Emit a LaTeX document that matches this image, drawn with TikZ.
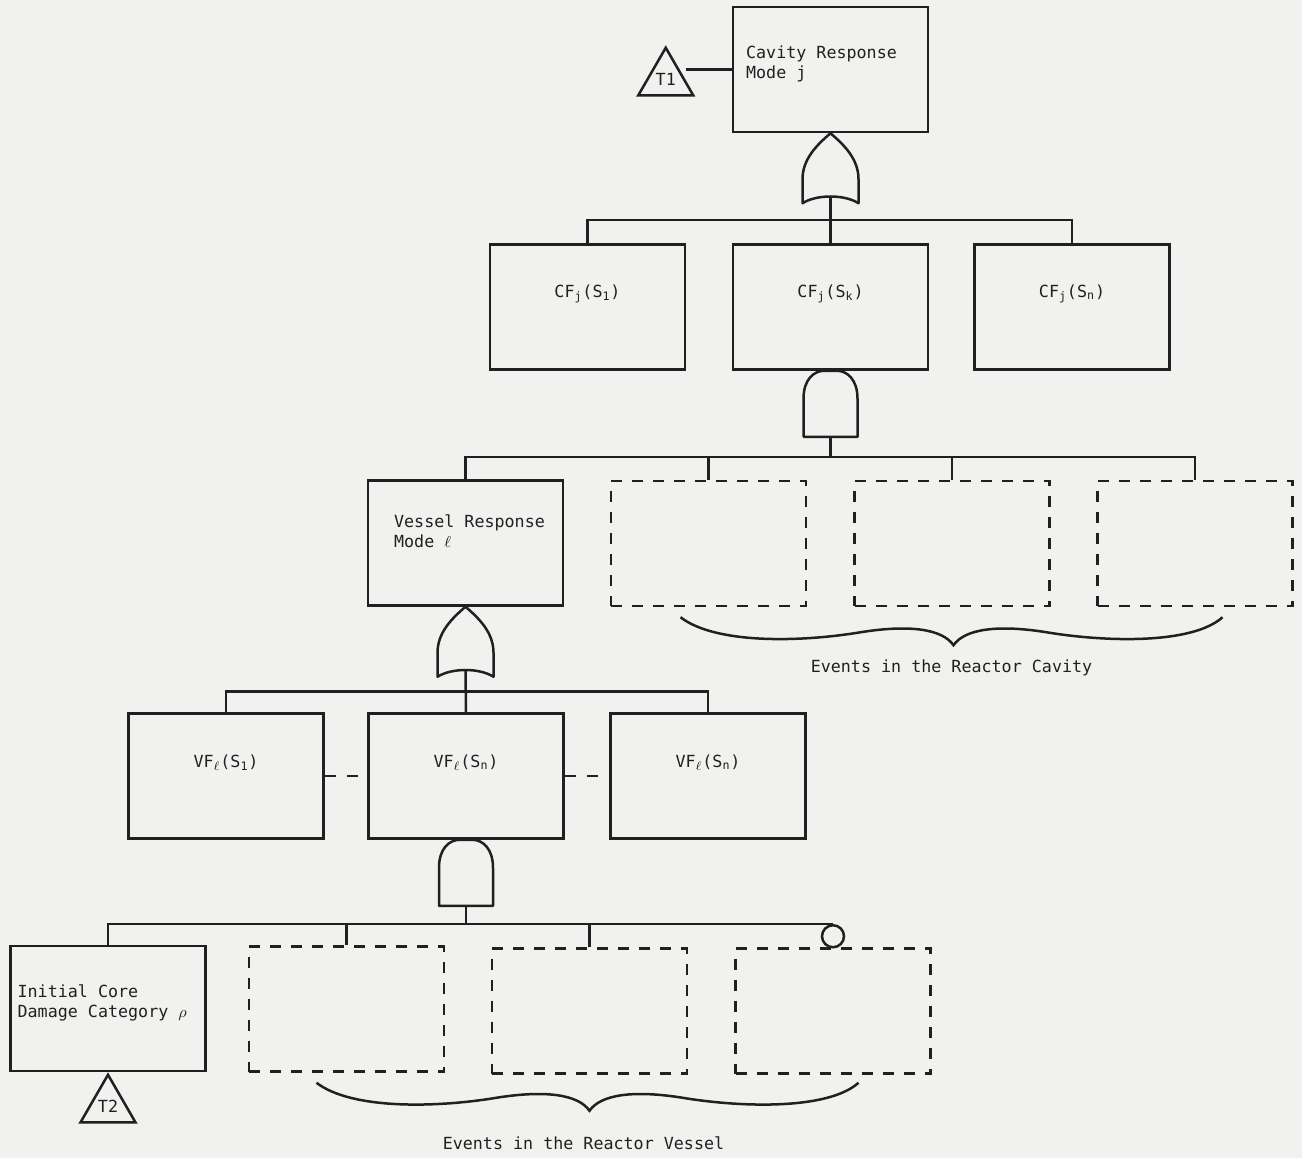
\documentclass[tikz,border=0pt]{standalone}
\usepackage{fontspec}
\setmonofont{DejaVu Sans Mono}
\usetikzlibrary{calc,shapes.geometric}

\definecolor{ink}{RGB}{32,32,32}
\definecolor{scanbg}{RGB}{241,241,239}

\tikzset{
  evbox/.style={draw, line width=0.5mm, minimum width=39mm, minimum height=25mm, inner sep=0pt},
  xbox/.style={evbox, dash pattern=on 2.2mm off 2mm},
  lbl/.style={font=\ttfamily\fontsize{9.5}{11.4}\selectfont, inner sep=0pt, align=left},
  tri/.style={draw, line width=0.5mm, regular polygon, regular polygon sides=3,
    minimum size=12.7mm, inner sep=0pt, font=\ttfamily\fontsize{9.5}{11.4}\selectfont},
  link/.style={line width=0.5mm},
  gap/.style={line width=0.5mm, dash pattern=on 2.2mm off 2.2mm},
  gateline/.style={line width=0.5mm, line join=round},
}

% gates: #1 name, #2 top point
\newcommand{\orgate}[2]{%
  \begin{scope}[shift={#2}]
    \draw[gateline] (0,0) .. controls (14,12) and (28,26) .. (28,46) -- (28,70)
      .. controls (14,61) and (-14,61) .. (-28,70) -- (-28,46)
      .. controls (-28,26) and (-14,12) .. (0,0) -- cycle;
    \coordinate (#1-out) at (0,64);
  \end{scope}}
\newcommand{\andgate}[2]{%
  \begin{scope}[shift={#2}]
    \draw[gateline] (-27,66) -- (-27,28) .. controls (-27,9) and (-17,0) .. (-6,0)
      -- (6,0) .. controls (17,0) and (27,9) .. (27,28) -- (27,66) -- cycle;
    \coordinate (#1-out) at (0,66);
  \end{scope}}
% brace under a row of events: #1 tip name, #2 left end
\newcommand{\evbrace}[2]{%
  \begin{scope}[shift={#2}]
    \draw[link] (0,0) .. controls (35,27) and (120,25) .. (180,15)
      .. controls (230,7) and (262,12) .. (273,28)
      .. controls (284,12) and (316,7) .. (366,15)
      .. controls (426,25) and (512,27) .. (542,0);
    \coordinate (#1) at (273,28);
  \end{scope}}

\begin{document}
\begin{tikzpicture}[x=0.2mm, y=-0.2mm, color=ink]
  \fill[scanbg] (0,0) rectangle (1302,1158);
  \useasboundingbox (0,0) rectangle (1302,1158);

  % cavity level
  \node[evbox] (cav) at (830.5,69.5) {};
  \node[lbl, anchor=north west] (cavtxt) at ($(cav.north west)+(14,40)$) {Cavity Response\\Mode j};
  \node[tri] (t1) at ($(cav.west)+(-66,10)$) {T1};
  \draw[link] (cav.west) -- (t1.east |- cav.west);
  \orgate{og1}{(cav.south)}

  \node[evbox] (cf1) at (587.5,307) {};
  \node[evbox] (cf2) at (830.5,307) {};
  \node[evbox] (cf3) at (1072,307) {};
  \node[lbl, anchor=base] (cf1txt) at ($(cf1.north)+(0,54)$) {CF\textsubscript{j}(S\textsubscript{1})};
  \node[lbl, anchor=base] (cf2txt) at ($(cf2.north)+(0,54)$) {CF\textsubscript{j}(S\textsubscript{k})};
  \node[lbl, anchor=base] (cf3txt) at ($(cf3.north)+(0,54)$) {CF\textsubscript{j}(S\textsubscript{n})};
  \coordinate (bus1) at ($(og1-out)!0.5!(cf2.north)$);
  \draw[link] (og1-out) -- (cf2.north);
  \draw[link] (cf1.north) |- (bus1) -| (cf3.north);

  \andgate{ag1}{(cf2.south)}
  \coordinate (bus2) at ($(ag1-out)+(0,20)$);
  \draw[link] (ag1-out) -- (bus2);
  \node[evbox] (ves) at (465.5,543) {};
  \node[xbox] (cd1) at (708.5,543.5) {};
  \node[xbox] (cd2) at (952,543.5) {};
  \node[xbox] (cd3) at (1195,543.5) {};
  \draw[link] (ves.north) |- (bus2) -| (cd3.north);
  \draw[link] (cd1.north) -- (cd1.north |- bus2);
  \draw[link] (cd2.north) -- (cd2.north |- bus2);
  \evbrace{cavtip}{($(cd1.south)+(-28,10)$)}
  \node[lbl, anchor=base] (cavlbl) at ($(cavtip)+(-2,27)$) {Events in the Reactor Cavity};

  % vessel level
  \node[lbl, anchor=north west] (vestxt) at ($(ves.north west)+(27,35)$) {Vessel Response\\Mode $\ell$};
  \orgate{og2}{(ves.south)}
  \node[evbox] (vf1) at (226,776) {};
  \node[evbox] (vf2) at (466,776) {};
  \node[evbox] (vf3) at (708,776) {};
  \node[lbl, anchor=base] (vf1txt) at ($(vf1.north)+(0,55)$) {VF\textsubscript{$\ell$}(S\textsubscript{1})};
  \node[lbl, anchor=base] (vf2txt) at ($(vf2.north)+(0,55)$) {VF\textsubscript{$\ell$}(S\textsubscript{n})};
  \node[lbl, anchor=base] (vf3txt) at ($(vf3.north)+(0,55)$) {VF\textsubscript{$\ell$}(S\textsubscript{n})};
  \coordinate (bus3) at ($(og2-out)!0.5!(vf2.north)$);
  \draw[link] (og2-out) -- (vf2.north);
  \draw[link] (vf1.north) |- (bus3) -| (vf3.north);
  \draw[gap] (vf1) -- (vf2);
  \draw[gap] (vf2) -- (vf3);

  % initiating level
  \andgate{ag2}{(vf2.south)}
  \node[evbox] (icd) at (108,1008.5) {};
  \node[lbl, anchor=north west] (icdtxt) at ($(icd.north west)+(8,40)$) {Initial Core\\Damage Category $\rho$};
  \node[tri, anchor=corner 1] (t2) at (icd.south) {T2};
  \node[xbox] (vd1) at (346.5,1009) {};
  \node[xbox] (vd2) at (589.5,1011) {};
  \node[xbox] (vd3) at (833,1011) {};
  \node[draw, circle, line width=0.5mm, minimum size=4.4mm, inner sep=0pt] (loop) at ($(vd3.north)+(0,-11)$) {};
  \draw[link] (ag2-out) -- (ag2-out |- loop.north);
  \draw[link] (icd.north) |- (loop.north);
  \draw[link] (vd1.north) -- (vd1.north |- loop.north);
  \draw[link] (vd2.north) -- (vd2.north |- loop.north);
  \evbrace{vestip}{($(vd1.south)+(-30,10)$)}
  \node[lbl, anchor=base] (veslbl) at ($(vestip)+(-6,39)$) {Events in the Reactor Vessel};
\end{tikzpicture}
\end{document}
